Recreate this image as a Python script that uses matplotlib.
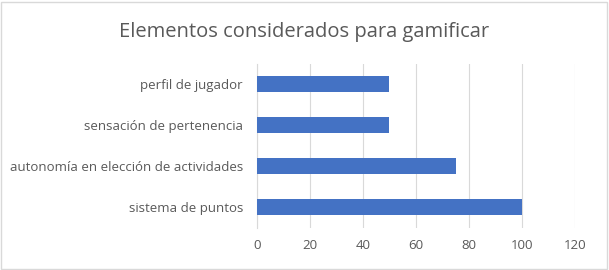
import matplotlib.pyplot as plt
from matplotlib.patches import Rectangle

# data
categorias = ["sistema de puntos", "autonomía en elección de actividades",
              "sensación de pertenencia", "perfil de jugador"]
valores = [100, 75, 50, 50]
ticks_x = [0, 20, 40, 60, 80, 100, 120]

plt.rcParams['font.family'] = ['Open Sans', 'DejaVu Sans']
gris = '#595959'

fig = plt.figure(figsize=(6.09, 2.7), dpi=100)
ax = fig.add_axes([0.422, 0.156, 0.522, 0.607])

ax.barh(range(len(categorias)), valores, height=0.39, color='#4472C4', zorder=3)
ax.set_yticks(range(len(categorias)))
ax.set_yticklabels(categorias, fontsize=9.5, color=gris)
ax.set_xticks(ticks_x)
ax.set_xticklabels([str(t) for t in ticks_x], fontsize=9.5, color=gris)
ax.set_xlim(0, 120)
ax.set_ylim(-0.5, len(categorias) - 0.5)

ax.grid(axis='x', color='#D9D9D9', linewidth=0.8, zorder=0)
for s in ['top', 'right', 'bottom']:
    ax.spines[s].set_visible(False)
ax.spines['left'].set_color('#D9D9D9')
ax.tick_params(axis='both', length=0, pad=10)
ax.tick_params(axis='x', pad=8)

fig.text(0.5, 0.88, "Elementos considerados para gamificar", ha='center', va='center',
         fontsize=14.5, color=gris)

# borde del gráfico
fig.patches.append(Rectangle((0.002, 0.004), 0.995, 0.99, transform=fig.transFigure,
                             fill=False, edgecolor='#D9D9D9', linewidth=1))

fig.savefig("out.png", dpi=100)
